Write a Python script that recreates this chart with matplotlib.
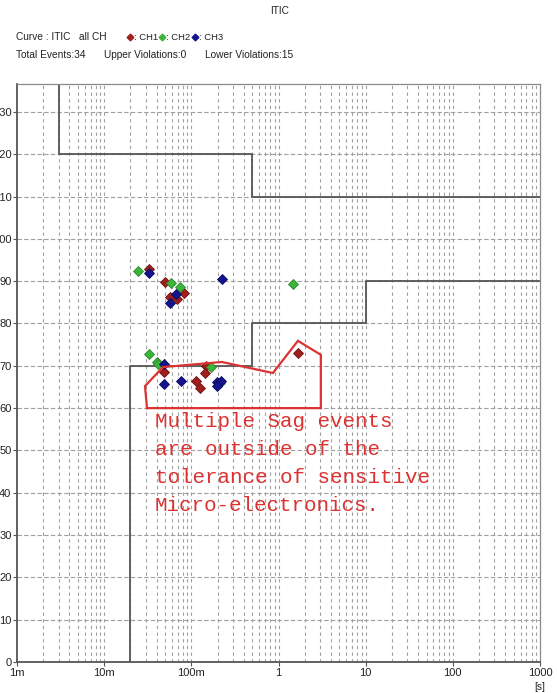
import matplotlib
matplotlib.use("Agg")
import matplotlib.pyplot as plt
from matplotlib.ticker import FixedLocator, NullFormatter

# ITIC (CBEMA) tolerance envelope: duration [s] vs. voltage [%]
itic_upper_t = [3e-3, 3e-3, 0.5, 0.5, 1000]
itic_upper_v = [140, 120, 120, 110, 110]
itic_lower_t = [0.02, 0.02, 0.5, 0.5, 10, 10, 1000]
itic_lower_v = [0, 70, 70, 80, 80, 90, 90]

# Recorded events per channel: duration [s], voltage [%]
ch1_t = [0.0329, 0.0498, 0.0822, 0.0568, 0.0678, 0.0489, 0.1138, 0.1256, 0.147, 0.143, 1.68]
ch1_v = [92.8, 89.8, 87.2, 86.2, 85.9, 68.6, 66.3, 64.8, 70.0, 68.2, 73.1]
ch2_t = [0.0246, 0.0583, 0.0746, 1.46, 0.0326, 0.0406, 0.0414, 0.169, 0.213]
ch2_v = [92.4, 89.5, 88.6, 89.3, 72.7, 71.0, 70.4, 69.7, 65.9]
ch3_t = [0.0329, 0.0671, 0.0568, 0.222, 0.0489, 0.0489, 0.0754, 0.198, 0.217, 0.195]
ch3_v = [91.9, 87.0, 84.9, 90.6, 70.4, 65.6, 66.5, 66.2, 66.5, 65.2]

# Hand-drawn callout around the sag events
callout_t = [0.031, 0.0294, 0.0472, 0.224, 0.863, 1.67, 3.06, 3.06, 0.031]
callout_v = [60.0, 65.2, 69.7, 70.9, 68.3, 75.9, 72.6, 60.0, 60.0]
callout_text = "Multiple Sag events\nare outside of the\ntolerance of sensitive\nMicro-electronics."

x_ticks = [1e-3, 1e-2, 1e-1, 1, 10, 100, 1000]
x_labels = ["1m", "10m", "100m", "1", "10", "100", "1000"]
y_ticks = list(range(0, 131, 10))
y_labels = [str(v) for v in y_ticks]

c_ch1 = "#a01e1e"
c_ch2 = "#3cb43c"
c_ch3 = "#14148c"
c_grid = "#a0a0a0"
c_frame = "#555555"
c_red = "#dc3232"

ui_font = ["Liberation Sans", "DejaVu Sans"]
ui_size = 7.3

W, H = 557, 693
fig = plt.figure(figsize=(W / 100, H / 100), dpi=100)
fig.patch.set_facecolor("white")
ax = fig.add_axes([17 / W, 31 / H, 523 / W, 578 / H])

ax.set_xscale("log")
ax.set_xlim(1e-3, 1e3)
ax.set_ylim(0, 136.6)

# grid: every 1..9 per decade, and every 10 %
minor_x = [m * 10.0 ** e for e in range(-3, 3) for m in range(2, 10)]
for xv in x_ticks[1:-1] + minor_x:
    ax.axvline(xv, color=c_grid, lw=0.8, ls=(0, (3, 3)), zorder=1)
for yv in y_ticks[1:]:
    ax.axhline(yv, color=c_grid, lw=0.8, ls=(0, (4, 2)), zorder=1)

ax.plot(itic_upper_t, itic_upper_v, color=c_frame, lw=1.3, zorder=2)
ax.plot(itic_lower_t, itic_lower_v, color=c_frame, lw=1.3, zorder=2)

mk = dict(marker="D", ls="none", ms=4.9, mew=0.6, zorder=4)
ax.plot(ch1_t, ch1_v, color=c_ch1, mec="#6e1010", **mk)
ax.plot(ch2_t, ch2_v, color=c_ch2, mec="#2a8a2a", **mk)
ax.plot(ch3_t, ch3_v, color=c_ch3, mec="#0a0a60", **mk)

ax.plot(callout_t, callout_v, color=c_red, lw=1.6, zorder=5, solid_joinstyle="miter")
# multi-line text: "baseline" anchors the last line
ax.text(0.0383, 35.8, callout_text, color=c_red, fontsize=15,
        family=["Liberation Mono", "DejaVu Sans Mono"], va="baseline", ha="left",
        linespacing=1.58, zorder=5)

ax.xaxis.set_major_locator(FixedLocator(x_ticks))
ax.xaxis.set_minor_locator(FixedLocator([]))
ax.xaxis.set_minor_formatter(NullFormatter())
ax.set_xticks(x_ticks)
ax.set_xticklabels(x_labels)
ax.set_yticks(y_ticks)
ax.set_yticklabels(y_labels)
ax.tick_params(axis="both", direction="out", length=3, width=0.8, color=c_frame,
               labelsize=8, pad=1)
for lab in ax.get_xticklabels() + ax.get_yticklabels():
    lab.set_family(ui_font)
    lab.set_color("#222222")

for side in ("left", "bottom"):
    ax.spines[side].set_color(c_frame)
    ax.spines[side].set_linewidth(1.3)
for side in ("top", "right"):
    ax.spines[side].set_color("#8a8a8a")
    ax.spines[side].set_linewidth(0.9)

# header
txt = dict(family=ui_font, fontsize=ui_size, color="#222222", va="center", ha="left")
fig.text(280 / W, 1 - 11 / H, "ITIC", **{**txt, "ha": "center"})
fig.text(16 / W, 1 - 37 / H, "Curve : ITIC   all CH", **txt)
for xd, col, lab in [(130, c_ch1, ": CH1"), (162, c_ch2, ": CH2"), (195, c_ch3, ": CH3")]:
    fig.lines.append(plt.Line2D([xd / W], [1 - 37 / H], transform=fig.transFigure,
                                marker="D", ms=3.4, color=col, ls="none"))
    fig.text((xd + 4) / W, 1 - 37 / H, lab, **{**txt, "fontsize": ui_size - 0.5})
fig.text(16 / W, 1 - 55 / H, "Total Events:34", **txt)
fig.text(104 / W, 1 - 55 / H, "Upper Violations:0", **txt)
fig.text(205 / W, 1 - 55 / H, "Lower Violations:15", **txt)
fig.text(540 / W, 1 - 687 / H, "[s]", **{**txt, "ha": "center"})

fig.savefig("out.png", dpi=100, facecolor="white")
